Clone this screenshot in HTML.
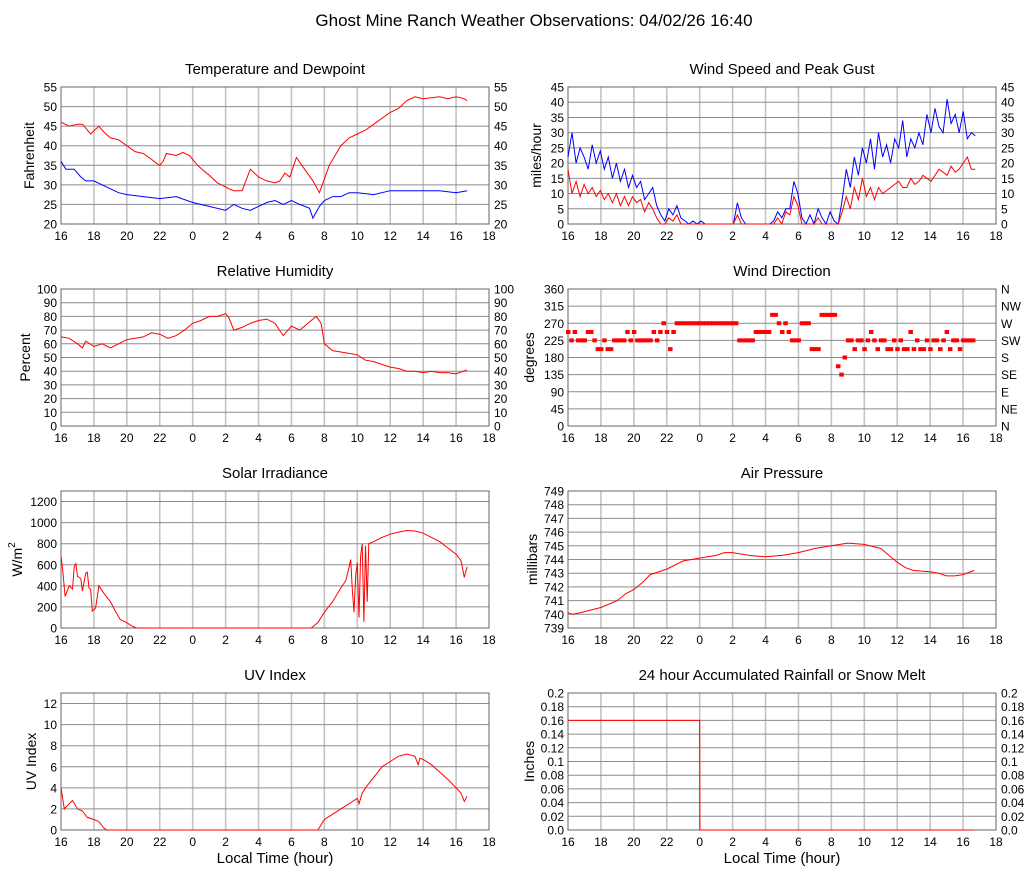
<!DOCTYPE html>
<html><head><meta charset="utf-8"><style>
body{margin:0;background:#fff;}
svg text{font-family:"Liberation Sans",sans-serif;fill:#000;}
</style></head><body>
<svg id="c" width="1027" height="878" xmlns="http://www.w3.org/2000/svg">
<rect width="1027" height="878" fill="#fff"/>
<text x="534" y="26" font-size="17" text-anchor="middle">Ghost Mine Ranch Weather Observations: 04/02/26 16:40</text>
</svg>
<script>
// ---- data ----
const xTickLabels = ["16","18","20","22","0","2","4","6","8","10","12","14","16","18"];
const tempT = [16,16.5,17,17.3,17.5,17.8,18.3,18.6,19,19.5,20,20.5,21,21.5,21.8,22,22.2,22.4,23,23.4,23.8,24.3,24.7,25,25.5,26,26.2,26.5,27,27.5,28,28.5,29,29.3,29.6,29.9,30.3,30.8,31.3,31.7,32.3,33,33.5,34,34.5,35,35.5,36,36.5,37,37.5,38,39,39.5,40,40.5,40.67];
const tempV = [46,45,45.5,45.5,44.5,43,45,43.5,42,41.5,40,38.5,38,36.5,35.5,35,36,38,37.5,38.3,37.5,35,33.5,32.5,30.5,29.5,29,28.5,28.5,34,32,31,30.5,31,33,32,37,34,31,28,35,40,42,43,44,45.5,47,48.5,49.5,51.5,52.5,52,52.5,52,52.5,52,51.5,51.2];
const dewT = [16,16.3,16.8,17.2,17.5,17.8,18,18.5,19,19.5,20,21,22,23,24,25,26,26.5,27,27.5,28,28.5,29,29.5,30,30.5,31.1,31.3,31.7,32,32.5,33,33.5,34,35,36,37,38,39,40,40.67];
const dewV = [36,34,34,32,31,31,31,30,29,28,27.5,27,26.5,27,25.5,24.5,23.5,25,24,23.5,24.5,25.5,26,25,26,25,24,21.5,24.5,26,27,27,28,28,27.5,28.5,28.5,28.5,28.5,28,28.5];
const windStart = 16, windStep = 0.245;
const gustV = [22,30,20,25,22,18,26,20,24,18,22,15,20,14,18,12,16,12,14,8,10,12,6,3,1,5,3,6,2,1,0,1,0,1,0,0,0,0,0,0,0,0,7,2,0,0,0,0,0,0,0,1,4,2,5,5,14,10,2,0,3,0,5,2,0,4,1,0,8,18,12,22,16,25,20,28,18,30,22,26,20,28,25,34,22,28,25,30,26,36,30,38,32,30,41,33,36,30,37,28,30,29];
const speedV = [18,10,14,9,13,10,12,9,11,8,10,7,10,6,9,6,9,7,8,4,7,5,2,0,0,2,1,3,0,0,0,0,0,0,0,0,0,0,0,0,0,0,3,0,0,0,0,0,0,0,0,0,2,0,4,3,9,6,0,0,0,0,2,0,0,0,0,0,4,9,5,12,8,15,9,12,8,12,10,11,12,13,14,12,12,15,13,14,16,15,14,16,18,17,16,19,17,18,20,22,18,18];
const rhT = [16,16.5,17,17.3,17.5,18,18.5,19,19.5,20,21,21.5,22,22.5,23,23.5,24,24.5,25,25.5,26,26.2,26.5,27,27.5,28,28.5,29,29.5,30,30.5,31,31.5,31.8,32,32.5,33,33.5,34,34.5,35,35.5,36,36.5,37,37.5,38,38.5,39,39.5,40,40.67];
const rhV = [65,64,60,57,62,58,60,57,60,63,65,68,67,64,66,70,75,77,80,80,82,79,70,72,75,77,78,75,66,73,70,75,80,75,60,55,54,53,52,48,47,45,43,42,40,40,39,40,39,39,38,41];
const dirStart = 16, dirStep = 0.2;
const dirV = [247,225,247,225,225,225,247,247, 225,202,202, 225,202,202,225,225,225,225, 247,225,247,225,225,225,225,225,247,225, 247,270,247,202,247, 270,270,270,270,270,270,270,270,270,270,270,270,270,270,270,270,270,270,270, 225,225,225,225,225, 247,247,247,247,247, 292,292,270, 247,270,247, 225,225,225, 270,270,270, 202,202,202, 292,292,292,292,292, 157,135,180,225, 225,202,225,225,202,225,247,225,202,225,225,202,202,225,202,225,202,202,247,202,225,202,202,225,202,225,225,202,225,247,202,225,225,202,225,225,225,225];
const dirLabels = ["N","NE","E","SE","S","SW","W","NW","N"];
const solarT = [16,16.1,16.25,16.5,16.7,16.8,16.9,17,17.2,17.3,17.5,17.6,17.7,17.8,17.9,18.1,18.3,18.6,19,19.3,19.6,20,20.3,20.6,31.2,31.6,32,32.5,33,33.3,33.5,33.6,33.7,33.8,33.9,34,34.1,34.2,34.3,34.4,34.5,34.6,34.7,35,35.5,36,36.5,37,37.5,38,38.5,39,39.5,40,40.3,40.5,40.67];
const solarV = [680,560,300,400,370,580,610,490,470,350,520,530,380,370,160,190,400,330,250,160,80,50,20,0,0,50,150,250,380,450,580,650,350,150,500,620,100,680,800,60,780,250,800,820,860,890,910,925,920,900,860,820,760,700,640,480,580];
const presT = [16,16.3,16.7,17,18,19,19.5,20,20.5,21,22,22.5,23,24,25,25.5,26,27,28,29,30,31,32,33,34,35,35.5,36,36.5,37,38,38.5,39,39.5,40,40.67];
const presV = [740.1,740.0,740.1,740.2,740.5,741.0,741.5,741.8,742.3,742.9,743.3,743.6,743.9,744.1,744.3,744.5,744.5,744.3,744.2,744.3,744.5,744.8,745.0,745.2,745.1,744.8,744.3,743.8,743.4,743.2,743.1,743.0,742.8,742.8,742.9,743.2];
const uvT = [16,16.2,16.5,16.7,17,17.3,17.6,18,18.3,18.6,18.8,31.6,32,32.5,33,33.5,33.8,34,34.1,34.3,34.5,35,35.5,36,36.5,37,37.5,37.7,37.8,38,38.5,39,39.5,40,40.3,40.5,40.67];
const uvV = [4,2,2.5,2.8,2,1.8,1.2,1,0.8,0.2,0,0,1,1.5,2,2.5,2.8,3,2.5,3.5,4,5,6,6.5,7,7.2,7,6.2,6.8,6.7,6.2,5.5,4.8,4,3.5,2.7,3.2];
const rainT = [16,24,24.01,40.67];
const rainV = [0.16,0.16,0,0];

// ---- drawing ----
const svg = document.getElementById('c');
const NS = 'http://www.w3.org/2000/svg';
function mk(tag, attrs, parent){const e=document.createElementNS(NS,tag);for(const k in attrs)e.setAttribute(k,attrs[k]);(parent||svg).appendChild(e);return e;}
function txt(s,attrs,parent){const e=mk('text',attrs,parent);e.textContent=s;return e;}

function panel(o){
  const g = mk('g',{});
  
  
  const W=428, H=137, x0=o.x, y0=o.y;
  const sx = t => x0 + (t-16)/26*W;
  const sy = v => y0 + H - (v-o.min)/(o.max-o.min)*H;
  for(let i=1;i<13;i++){const x=x0+i*W/13;mk('line',{x1:x,y1:y0,x2:x,y2:y0+H,stroke:'#c4c4c4','stroke-width':1.6},g);}
  o.ticks.forEach(v=>{const y=sy(v);mk('line',{x1:x0,y1:y,x2:x0+W,y2:y,stroke:'#8c8c8c','stroke-width':1},g);});
  mk('rect',{x:x0,y:y0,width:W,height:H,fill:'none',stroke:'#666','stroke-width':1},g);
  o.ticks.forEach((v,i)=>{
    const lab=o.labels?o.labels[i]:String(v);
    if(o.left!==false){const t=txt(lab,{x:x0-4,y:sy(v)+4.5,'font-size':12,'text-anchor':'end'},g);
      
      }
    if(o.right){const t=txt(o.rlabels?o.rlabels[i]:lab,{x:x0+W+5,y:sy(v)+4.5,'font-size':12},g);
      
      }
  });
  xTickLabels.forEach((l,i)=>{const t=txt(l,{x:x0+i*W/13,y:y0+H+16,'font-size':12,'text-anchor':'middle'},g);
    
    });
  const tt=txt(o.title,{x:x0+W/2,y:y0-13,'font-size':15,'text-anchor':'middle'},g);
  
  
  const ya=txt('',{x:0,y:0,'font-size':14,'text-anchor':'middle',transform:`translate(${o.yl},${y0+H/2}) rotate(-90)`},g);
  ya.innerHTML=o.ylabel;
  
  
  if(o.xlabel){const xl=txt('Local Time (hour)',{x:x0+W/2,y:y0+H+33,'font-size':15,'text-anchor':'middle'},g);
    
    }
  return {g,sx,sy};
}
function line(p,T,V,color,name){
  const d=V.map((v,i)=>(i?'L':'M')+p.sx(T[i]).toFixed(1)+','+p.sy(v).toFixed(1)).join('');
  const e=mk('path',{d,fill:'none',stroke:color,'stroke-width':1},p.g);
  
  
}
const range=(a,b,s)=>{const r=[];for(let v=a;v<=b+1e-9;v+=s)r.push(+v.toFixed(3));return r;};
const uni=(start,step,arr)=>arr.map((_,i)=>start+i*step);

let p=panel({name:'temperature-panel',x:61,y:87,min:20,max:55,ticks:range(20,55,5),right:true,title:'Temperature and Dewpoint',ylabel:'Fahrenheit',yl:34});
line(p,dewT,dewV,'#0000ff','dewpoint-line');
line(p,tempT,tempV,'#ff0000','temperature-line');

p=panel({name:'wind-panel',x:568,y:87,min:0,max:45,ticks:range(0,45,5),right:true,title:'Wind Speed and Peak Gust',ylabel:'miles/hour',yl:541});
line(p,uni(windStart,windStep,gustV),gustV,'#0000ff','gust-line');
line(p,uni(windStart,windStep,speedV),speedV,'#ff0000','speed-line');

p=panel({name:'humidity-panel',x:61,y:289,min:0,max:100,ticks:range(0,100,10),right:true,title:'Relative Humidity',ylabel:'Percent',yl:30});
line(p,rhT,rhV,'#ff0000','humidity-line');

p=panel({name:'wind-direction-panel',x:568,y:289,min:0,max:360,ticks:range(0,360,45),right:true,rlabels:dirLabels,title:'Wind Direction',ylabel:'degrees',yl:534});
dirV.forEach((v,i)=>{const t=dirStart+i*dirStep;const r=mk('rect',{x:p.sx(t)-2,y:p.sy(v)-2,width:4.5,height:4,fill:'#ff0000'},p.g);
  
  });

p=panel({name:'solar-panel',x:61,y:491,min:0,max:1300,ticks:[0,200,400,600,800,1000,1200],title:'Solar Irradiance',ylabel:'W/m<tspan dy="-7" font-size="10">2</tspan>',yl:22});
line(p,solarT,solarV,'#ff0000','solar-line');

p=panel({name:'pressure-panel',x:568,y:491,min:739,max:749,ticks:range(739,749,1),title:'Air Pressure',ylabel:'millibars',yl:537});
line(p,presT,presV,'#ff0000','pressure-line');

p=panel({name:'uv-panel',x:61,y:693,min:0,max:13,ticks:range(0,12,2),title:'UV Index',ylabel:'UV Index',yl:36,xlabel:true});
line(p,uvT,uvV,'#ff0000','uv-line');

p=panel({name:'rain-panel',x:568,y:693,min:0,max:0.2,ticks:range(0,0.2,0.02),labels:['0.0','0.02','0.04','0.06','0.08','0.1','0.12','0.14','0.16','0.18','0.2'],right:true,title:'24 hour Accumulated Rainfall or Snow Melt',ylabel:'Inches',yl:534,xlabel:true});
line(p,rainT,rainV,'#ff0000','rain-line');
</script>
</body></html>
